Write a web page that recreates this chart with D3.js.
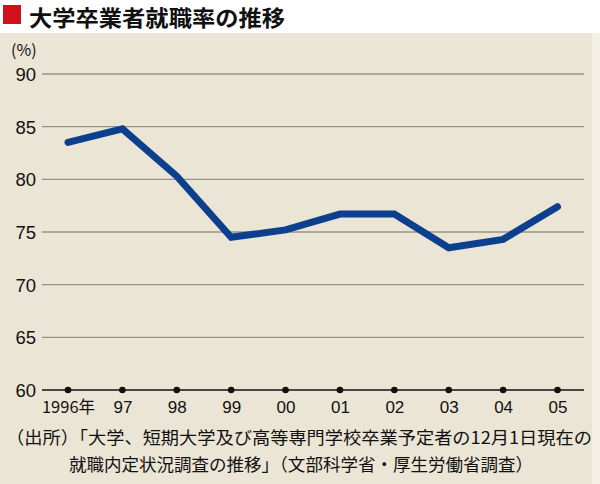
<!DOCTYPE html>
<html><head><meta charset="utf-8">
<script src="https://cdn.jsdelivr.net/npm/d3@7"></script>
<style>body{margin:0;background:#fff}svg{display:block}</style>
</head><body>
<script>
const years = ["1996年","97","98","99","00","01","02","03","04","05"];
const rates = [83.5,84.8,80.3,74.5,75.2,76.7,76.7,73.5,74.3,77.4];
const yTicks = [60,65,70,75,80,85,90];
const title = "大学卒業者就職率の推移";
const source1 = "（出所）「大学、短期大学及び高等専門学校卒業予定者の12月1日現在の";
const source2 = "就職内定状況調査の推移」（文部科学省・厚生労働省調査）";

const W=600,H=484;
const svg=d3.select("body").append("svg").attr("width",W).attr("height",H);
const font="'Noto Sans CJK JP','Noto Sans',sans-serif";
svg.append("rect").attr("x",0).attr("y",33).attr("width",592).attr("height",H-33).attr("fill","#ebe5d5");
svg.append("rect").attr("x",592).attr("y",33).attr("width",8).attr("height",H-33).attr("fill","#f3efe4");
svg.append("rect").attr("x",3).attr("y",5).attr("width",18).attr("height",19).attr("fill","#d0101b");
svg.append("text").attr("x",29).attr("y",26).attr("font-family",font).attr("font-weight","bold").attr("font-size",22).attr("fill","#111")
  .attr("textLength",256).attr("lengthAdjust","spacingAndGlyphs").text(title);

const x=d3.scalePoint().domain(years).range([68,557.5]);
const y=d3.scaleLinear().domain([60,90]).range([390,74]);

const g=svg.append("g");
const ya=d3.axisLeft(y).tickValues(yTicks).tickSize(0).tickPadding(0);
const yg=g.append("g").attr("transform","translate(37,0)").call(ya);
yg.select(".domain").remove();
yg.selectAll("text").attr("font-family","'Liberation Sans',Arial,sans-serif").attr("font-size",18.5).attr("fill","#111").attr("dx",-1).attr("dy","0.35em");
g.selectAll(".grid").data(yTicks).join("line").attr("x1",42).attr("x2",584)
 .attr("y1",d=>y(d)).attr("y2",d=>y(d)).attr("stroke",d=>d===60?"#111":"#9a9384").attr("stroke-width",1.3);
svg.append("text").attr("x",11).attr("y",56).attr("font-family",font).attr("font-size",16).attr("fill","#111").text("(%)");

const xa=d3.axisBottom(x).tickSize(0).tickPadding(0);
const xg=g.append("g").attr("transform","translate(0,390)").call(xa);
xg.select(".domain").remove();
xg.selectAll("text").attr("font-family","'Liberation Sans',Arial,sans-serif").attr("font-size",17).attr("fill","#111").attr("y",23).attr("dy",0);
xg.selectAll("text").filter(d=>d==="1996年").attr("font-family",font).attr("font-size",16.5);
g.selectAll(".dot").data(years).join("circle").attr("cx",d=>x(d)).attr("cy",390).attr("r",3.3).attr("fill","#111");

const line=d3.line().x((d,i)=>x(years[i])).y(d=>y(d));
g.append("path").datum(rates).attr("d",line).attr("fill","none").attr("stroke","#0d3f8f").attr("stroke-width",7).attr("stroke-linejoin","miter").attr("stroke-linecap","round");

svg.append("text").attr("x",6).attr("y",444).attr("font-family",font).attr("font-size",17.5).attr("fill","#111").attr("textLength",586).attr("lengthAdjust","spacingAndGlyphs").text(source1);
svg.append("text").attr("x",69).attr("y",471).attr("font-family",font).attr("font-size",17.5).attr("fill","#111").attr("textLength",464).attr("lengthAdjust","spacingAndGlyphs").text(source2);
</script>
</body></html>
